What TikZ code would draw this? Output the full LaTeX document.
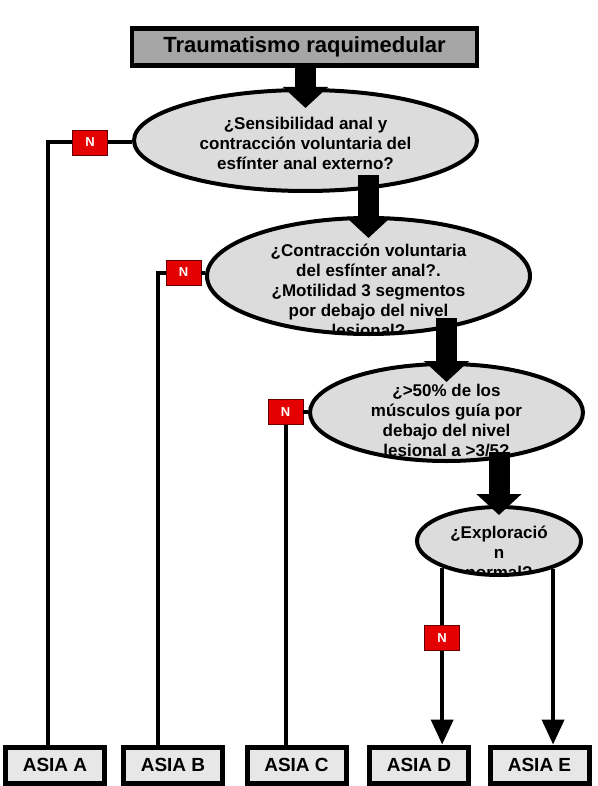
\documentclass[tikz,border=0pt]{standalone}
\usepackage{fontspec}
\setmainfont{Liberation Sans}
\usetikzlibrary{arrows.meta,shapes.geometric}

\definecolor{titlegray}{RGB}{166,166,166}
\definecolor{qgray}{RGB}{220,220,220}
\definecolor{boxgray}{RGB}{231,231,231}
\definecolor{nred}{RGB}{228,0,0}

\begin{document}
\begin{tikzpicture}[x=1pt,y=1pt,
  titlebox/.style={draw,line width=4.5pt,fill=titlegray,minimum width=345pt,minimum height=37pt,inner sep=0pt,
    font=\bfseries\fontsize{22}{26}\selectfont},
  question/.style={ellipse,draw,line width=4pt,fill=qgray,inner sep=0pt},
  qtext/.style={align=center,font=\bfseries\fontsize{17}{20}\selectfont},
  nbox/.style={draw=black!60!red,line width=0.8pt,fill=nred,text=white,minimum width=35pt,minimum height=25pt,
    inner sep=0pt,font=\bfseries\fontsize{13}{15}\selectfont},
  asia/.style={draw,line width=5pt,fill=boxgray,minimum width=99pt,minimum height=36pt,inner sep=0pt,
    font=\bfseries\fontsize{19}{22}\selectfont},
  bigarrow/.style={line width=21pt,-{Triangle[width=44pt,length=21pt]}},
  conn/.style={line width=4pt},
  arrowed/.style={-{Triangle[width=22pt,length=25pt]}}
]
\useasboundingbox (0,0) rectangle (597,-786);

% start and questions
\node[titlebox] (trauma) at (304.5,-47) {Traumatismo raquimedular};
\node[question,minimum width=343pt,minimum height=101pt] (q1) at (305.5,-140.5) {};
\node[question,minimum width=323pt,minimum height=116pt] (q2) at (368.5,-276) {};
\node[question,minimum width=273pt,minimum height=97pt] (q3) at (446.5,-412.5) {};
\node[question,minimum width=164pt,minimum height=68pt] (q4) at (499,-541) {};

% texts, cut at the ellipse border
\begin{scope}
  \clip (q1.center) ellipse [x radius=169.5pt,y radius=48.5pt];
  \node[qtext] (q1t) at (305.5,-143) {¿Sensibilidad anal y\\contracción voluntaria del\\esfínter anal externo?};
\end{scope}
\begin{scope}
  \clip (q2.center) ellipse [x radius=159.5pt,y radius=56pt];
  \node[qtext] (q2t) at (368.5,-290) {¿Contracción voluntaria\\del esfínter anal?.\\¿Motilidad 3 segmentos\\por debajo del nivel\\lesional?};
\end{scope}
\begin{scope}
  \clip (q3.center) ellipse [x radius=134.5pt,y radius=46.5pt];
  \node[qtext] (q3t) at (446.5,-421) {¿>50\% de los\\músculos guía por\\debajo del nivel\\lesional a >3/5?};
\end{scope}
\begin{scope}
  \clip (q4.center) ellipse [x radius=80pt,y radius=32pt];
  \node[qtext] (q4t) at (499,-552) {¿Exploració\\n\\normal?};
\end{scope}

% results
\node[asia] (asiaA) at (55,-765) {ASIA A};
\node[asia] (asiaB) at (173,-765) {ASIA B};
\node[asia] (asiaC) at (296.5,-765) {ASIA C};
\node[asia] (asiaD) at (419,-765) {ASIA D};
\node[asia] (asiaE) at (539.5,-765) {ASIA E};

% "no" branches
\node[nbox] (n1) at (90,-142.5) {N};
\node[nbox] (n2) at (183.5,-272.5) {N};
\node[nbox] (n3) at (285.5,-412) {N};

\draw[conn] (n1.east) -- (n1.east -| q1.west);
\draw[conn] (n1.west) -| ([xshift=-7pt]asiaA.north);
\draw[conn] (n2.east) -- (n2.east -| q2.west);
\draw[conn] (n2.west) -| ([xshift=-15pt]asiaB.north);
\draw[conn] (n3.east) -- (n3.east -| q3.west);
\draw[conn] (n3.south) -- (n3.south |- asiaC.north);
\draw[conn,arrowed] (q4.205) -- node[nbox,pos=0.4] (n4) {N} (q4.205 |- asiaD.north);
\draw[conn,arrowed] (q4.333) -- (q4.333 |- asiaE.north);

% main path
\draw[bigarrow] (trauma.south -| q1.north) -- ([yshift=-20pt]q1.north);
\draw[bigarrow] ([yshift=18pt]q1.south -| q2.north) -- ([yshift=-22pt]q2.north);
\draw[bigarrow] ([yshift=18pt]q2.south -| q3.north) -- ([yshift=-20pt]q3.north);
\draw[bigarrow] ([yshift=11pt]q3.south -| q4.north) -- ([yshift=-10pt]q4.north);
\end{tikzpicture}
\end{document}
